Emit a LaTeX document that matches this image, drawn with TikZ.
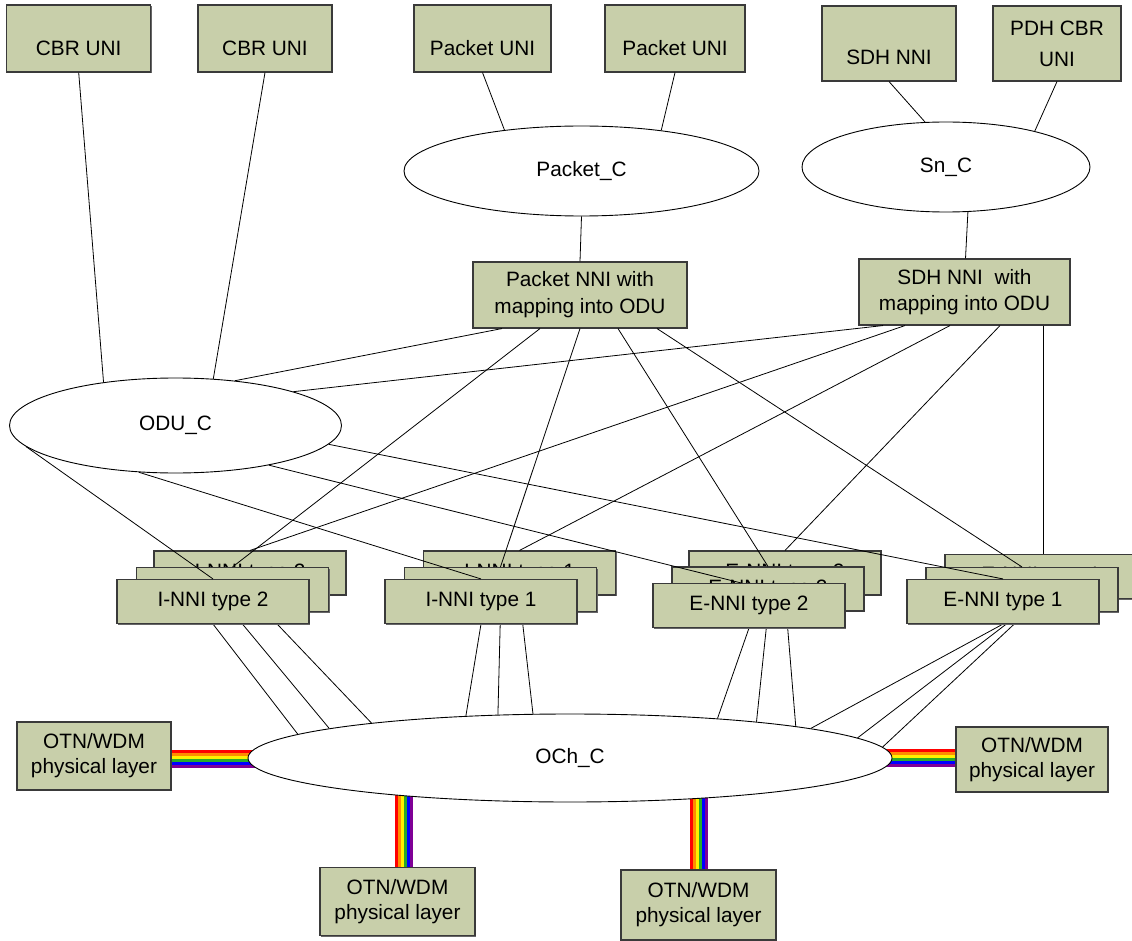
\documentclass[tikz,border=0pt]{standalone}
\usepackage{fontspec}
\setmainfont{Liberation Sans}
\usetikzlibrary{shapes.geometric,shadows,calc}
\pgfdeclarelayer{bg}
\pgfsetlayers{bg,main}
\definecolor{boxfill}{HTML}{C8CFAA}
\definecolor{boxline}{HTML}{3A3A3A}
\definecolor{rb1}{RGB}{255,0,0}
\definecolor{rb2}{RGB}{255,140,0}
\definecolor{rb3}{RGB}{255,240,0}
\definecolor{rb4}{RGB}{40,170,40}
\definecolor{rb5}{RGB}{0,0,255}
\definecolor{rb6}{RGB}{128,0,150}
\newcommand{\nnistack}[5]{%
  \node[stk] (#1b) at (#3) {#2};
  \node[stk] (#1m) at (#4) {#2};
  \node[stk] (#1f) at (#5) {#2};
}
\begin{document}
\begin{tikzpicture}[x=1pt,y=-1pt,
  font=\fontsize{20.8}{26}\selectfont,
  box/.style={draw=boxline, line width=1.1pt, fill=boxfill, inner sep=0pt,
    drop shadow={shadow xshift=1.4pt, shadow yshift=-1.4pt, fill=black!60, opacity=1}},
  mbox/.style={box, align=center},
  topbox/.style={box, minimum height=67pt, text height=40pt, text depth=6.1pt},
  stk/.style={box, minimum width=192pt, minimum height=44pt},
  otn/.style={mbox, font=\fontsize{20.8}{25}\selectfont},
  ell/.style={ellipse, draw=black, line width=0.9pt, fill=white, inner sep=0pt},
  conn/.style={draw=black, line width=0.8pt},
  stripe/.style={line width=3.1pt}]
\useasboundingbox (0,0) rectangle (1132,941);

% top boxes
\node[topbox, minimum width=144pt] (cbr1) at (78.7,38.5) {CBR UNI};
\node[topbox, minimum width=134pt] (cbr2) at (265,38.5) {CBR UNI};
\node[topbox, minimum width=137pt] (pkt1) at (482.5,38.5) {Packet UNI};
\node[topbox, minimum width=140pt] (pkt2) at (675,38.5) {Packet UNI};
\node[box, minimum width=134pt, minimum height=75pt, text height=48pt, text depth=6.1pt] (sdh) at (889,43.5) {SDH NNI};
\node[mbox, minimum width=128pt, minimum height=75pt] (pdh) at (1057,43.5) {PDH CBR\\[5pt]UNI};

% ellipses
\node[ell, minimum width=355pt, minimum height=90pt] (pc) at (581.5,171) {Packet\_C};
\node[ell, minimum width=288pt, minimum height=90pt] (snc) at (946,167) {Sn\_C};
\node[ell, minimum width=332pt, minimum height=95pt] (odu) at (175.5,425.5) {ODU\_C};
\node[ell, minimum width=644pt, minimum height=88pt] (och) at (570,758) {OCh\_C};

% mapping boxes
\node[mbox, minimum width=214pt, minimum height=66pt, font=\fontsize{20.8}{27}\selectfont] (pnni) at (580,295) {Packet NNI with\\mapping into ODU};
\node[mbox, minimum width=211pt, minimum height=66pt, font=\fontsize{20.8}{26}\selectfont] (sdhm) at (964.5,292) {SDH NNI\ \ with\\mapping into ODU};

% NNI stacks
\nnistack{i2}{I-NNI type 2}{250,573}{232.5,589.5}{213,601.5}
\nnistack{i1}{I-NNI type 1}{519.5,573}{500.5,589.5}{481,601.5}
\nnistack{e2}{E-NNI type 2}{785,573}{768,589}{749,605.5}
\nnistack{e1}{E-NNI type 1}{1041,576.5}{1022,589.5}{1003,601.5}

% OTN boxes
\node[otn, minimum width=154pt, minimum height=68pt] (otnl) at (94,756) {OTN/WDM\\physical layer};
\node[otn, minimum width=152pt, minimum height=65pt] (otnr) at (1032,759.5) {OTN/WDM\\physical layer};
\node[otn, minimum width=155pt, minimum height=68pt] (otnb1) at (397.5,901.5) {OTN/WDM\\physical layer};
\node[otn, minimum width=155pt, minimum height=70pt] (otnb2) at (698.5,905) {OTN/WDM\\physical layer};

% connectors above
\draw[conn] (cbr1.south) -- (odu.149.9);
\draw[conn] (cbr2.south) -- (odu.51);
\draw[conn] (pkt1.south) -- (pc.152.8);
\draw[conn] (pkt2.south) -- (pc.27.6);
\draw[conn] (sdh.south) -- (snc.115.5);
\draw[conn] (pdh.south) -- (snc.22.4);
\draw[conn] (pc.south) -- (pnni.north);
\draw[conn] (snc.-64) -- ([xshift=1pt]sdhm.north);
\draw[conn] (odu.37.7) -- ([xshift=-78pt]pnni.south);
\draw[conn] (odu.16.7) -- ([xshift=-81.5pt]sdhm.south);
\draw[conn] ([xshift=-40pt]pnni.south) -- (i2m.north);
\draw[conn] (pnni.south) -- (i1m.north);
\draw[conn] ([xshift=38pt]pnni.south) -- (e2m.north);
\draw[conn] ([xshift=77pt]pnni.south) -- (e1m.north);
\draw[conn] ([xshift=-59.5pt]sdhm.south) -- (i2b.north);
\draw[conn] ([xshift=-14.5pt]sdhm.south) -- (i1b.north);
\draw[conn] ([xshift=35.5pt]sdhm.south) -- (e2b.north);
\draw[conn] ([xshift=78.5pt]sdhm.south) -- ([xshift=78.5pt]sdhm.south |- e1b.north);
\draw[conn] (odu.188.9) -- (i2f.north);
\draw[conn] (odu.232.6) -- (i1f.north);
\draw[conn] (odu.-23.1) -- ([xshift=-8pt]e2f.north);
\draw[conn] (odu.-7.9) -- (e1f.north);

% connectors behind boxes and rainbow links
\begin{pgfonlayer}{bg}
\draw[conn] (i2f.south) -- (och.175.8);
\draw[conn] (i2m.south) -- (och.173.4);
\draw[conn] (i2b.south) -- (och.170.9);
\draw[conn] (i1f.south) -- (och.158.7);
\draw[conn] (i1m.south) -- (och.149.5);
\draw[conn] (i1b.south) -- (och.130.8);
\draw[conn] (e2f.south) -- (och.15.4);
\draw[conn] (e2m.south) -- (och.11.5);
\draw[conn] (e2b.south) -- (och.8.5);
\draw[conn] (e1f.south) -- (och.7.1);
\draw[conn] (e1m.south) -- (och.4.6);
\draw[conn] (e1b.south) -- (och.2.4);
\foreach \c [count=\i from 0] in {rb1,rb2,rb3,rb4,rb5,rb6} {
  \draw[stripe, draw=\c] ($(otnl.east)+(0,{-4.5+3*\i})$) -- ($(otnl.east -| och.west)+(22,{-4.5+3*\i})$);
  \draw[stripe, draw=\c] ($(otnr.west)+(0,{-9+3*\i})$) -- ($(otnr.west -| och.east)+(-22,{-9+3*\i})$);
  \draw[stripe, draw=\c] ($(otnb1.north)+({-1+3*\i},0)$) -- ($(otnb1.north)+({-1+3*\i},-90)$);
  \draw[stripe, draw=\c] ($(otnb2.north)+({-7+3*\i},0)$) -- ($(otnb2.north)+({-7+3*\i},-90)$);
}
\end{pgfonlayer}
\end{tikzpicture}
\end{document}
